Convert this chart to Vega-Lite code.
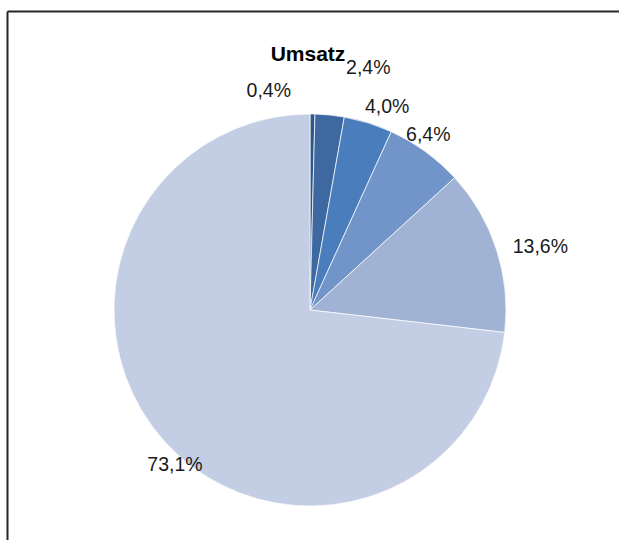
{
  "$schema": "https://vega.github.io/schema/vega-lite/v6.json",
  "width": 606,
  "height": 598,
  "autosize": {"type": "none"},
  "padding": {"left": 7, "top": 11, "right": 8, "bottom": 0},
  "background": "#ffffff",
  "config": {
    "view": {"stroke": null},
    "text": {"font": "Liberation Sans"}
  },
  "title": {
    "text": "Umsatz",
    "font": "Liberation Sans",
    "fontSize": 21,
    "fontWeight": "bold",
    "color": "#000000",
    "baseline": "alphabetic",
    "offset": -71,
    "anchor": "middle",
    "dx": -2
  },
  "data": {
    "values": [
      {"Segment": "S1", "Anteil": 0.4, "Label": "0,4%", "Rang": 1},
      {"Segment": "S2", "Anteil": 2.4, "Label": "2,4%", "Rang": 2},
      {"Segment": "S3", "Anteil": 4.0, "Label": "4,0%", "Rang": 3},
      {"Segment": "S4", "Anteil": 6.4, "Label": "6,4%", "Rang": 4},
      {"Segment": "S5", "Anteil": 13.6, "Label": "13,6%", "Rang": 5},
      {"Segment": "S6", "Anteil": 73.1, "Label": "73,1%", "Rang": 6}
    ]
  },
  "layer": [
    {
      "mark": {"type": "point", "size": 0, "opacity": 0, "fillOpacity": 0, "strokeOpacity": 0},
      "encoding": {
        "x": {
          "field": "Anteil", "type": "quantitative",
          "scale": {"domain": [0, 100], "nice": false, "range": [0, 650]},
          "axis": {"orient": "top", "domain": true, "domainColor": "#262626", "domainWidth": 2, "ticks": false, "tickSize": 0, "tickCount": 0, "labels": false, "grid": false, "title": null}
        },
        "y": {
          "field": "Rang", "type": "quantitative",
          "scale": {"domain": [0, 10], "nice": false},
          "axis": {"orient": "left", "domain": true, "domainColor": "#262626", "domainWidth": 2, "ticks": false, "tickSize": 0, "tickCount": 0, "labels": false, "grid": false, "title": null}
        }
      }
    },
    {
      "mark": {"type": "arc", "outerRadius": 196, "stroke": "#ffffff", "strokeWidth": 0.7},
      "encoding": {
        "theta": {"field": "Anteil", "type": "quantitative", "stack": true},
        "order": {"field": "Rang", "type": "quantitative", "sort": "ascending"},
        "color": {
          "field": "Segment",
          "type": "nominal",
          "scale": {
            "domain": ["S1", "S2", "S3", "S4", "S5", "S6"],
            "range": ["#2E578A", "#3D69A0", "#4A7DBB", "#7194C9", "#A0B3D5", "#C3CDE3"]
          },
          "legend": null
        }
      }
    },
    {
      "mark": {"type": "text", "radius": 220, "dx": -44, "dy": 1, "fontSize": 19.5, "color": "#1a1a1a"},
      "encoding": {
        "theta": {"field": "Anteil", "type": "quantitative", "stack": true},
        "order": {"field": "Rang", "type": "quantitative", "sort": "ascending"},
        "text": {"condition": {"test": "datum.Segment == 'S1'", "field": "Label"}, "value": ""}
      }
    },
    {
      "mark": {"type": "text", "radius": 242, "dx": 34, "dy": -1, "fontSize": 19.5, "color": "#1a1a1a"},
      "encoding": {
        "theta": {"field": "Anteil", "type": "quantitative", "stack": true},
        "order": {"field": "Rang", "type": "quantitative", "sort": "ascending"},
        "text": {"condition": {"test": "datum.Segment == 'S2'", "field": "Label"}, "value": ""}
      }
    },
    {
      "mark": {"type": "text", "radius": 219, "dx": 12, "dy": 6, "fontSize": 19.5, "color": "#1a1a1a"},
      "encoding": {
        "theta": {"field": "Anteil", "type": "quantitative", "stack": true},
        "order": {"field": "Rang", "type": "quantitative", "sort": "ascending"},
        "text": {"condition": {"test": "datum.Segment == 'S3'", "field": "Label"}, "value": ""}
      }
    },
    {
      "mark": {"type": "text", "radius": 213, "dx": -7, "dy": -3, "fontSize": 19.5, "color": "#1a1a1a"},
      "encoding": {
        "theta": {"field": "Anteil", "type": "quantitative", "stack": true},
        "order": {"field": "Rang", "type": "quantitative", "sort": "ascending"},
        "text": {"condition": {"test": "datum.Segment == 'S4'", "field": "Label"}, "value": ""}
      }
    },
    {
      "mark": {"type": "text", "radius": 239, "dx": 3, "dy": 11, "fontSize": 19.5, "color": "#1a1a1a"},
      "encoding": {
        "theta": {"field": "Anteil", "type": "quantitative", "stack": true},
        "order": {"field": "Rang", "type": "quantitative", "sort": "ascending"},
        "text": {"condition": {"test": "datum.Segment == 'S5'", "field": "Label"}, "value": ""}
      }
    },
    {
      "mark": {"type": "text", "radius": 205, "dx": 18, "dy": 19, "fontSize": 19.5, "color": "#1a1a1a"},
      "encoding": {
        "theta": {"field": "Anteil", "type": "quantitative", "stack": true},
        "order": {"field": "Rang", "type": "quantitative", "sort": "ascending"},
        "text": {"condition": {"test": "datum.Segment == 'S6'", "field": "Label"}, "value": ""}
      }
    }
  ]
}
